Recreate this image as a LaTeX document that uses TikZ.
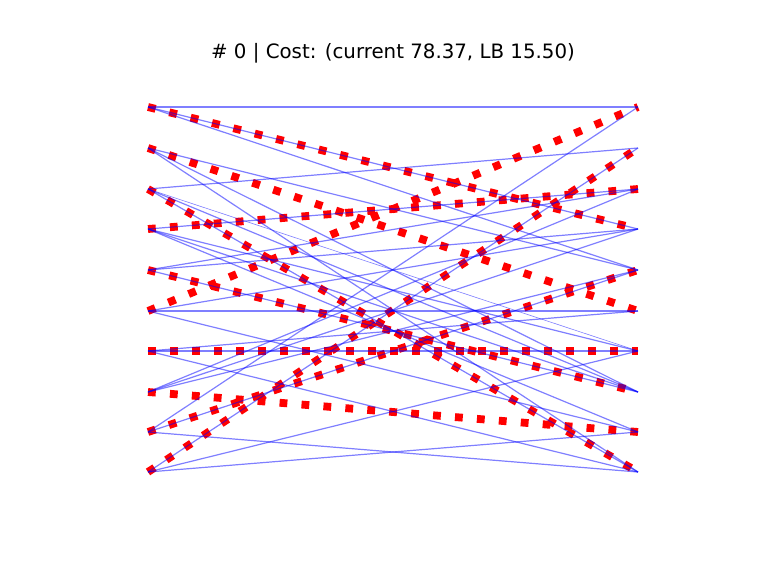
\documentclass[tikz,border=0pt]{standalone}
\usepackage{fontspec}
\setmainfont{DejaVu Sans}
\begin{document}
\begin{tikzpicture}[x=1pt,y=-1pt,
  edge/.style={draw=blue, opacity=0.5, line width=1.2pt},
  heavy/.style={edge, line width=2pt},
  light/.style={edge, line width=0.6pt},
  match/.style={draw=red, line width=7.8pt, dash pattern=on 7.8pt off 14.2pt}]
\useasboundingbox (0,0) rectangle (768,576);
\foreach \i/\y in {0/107,1/148,2/189,3/229,4/270,5/311,6/351,7/392,8/432,9/472}{
  \coordinate (L\i) at (148,\y);
  \coordinate (R\i) at (638,\y);
}
\node (title) at (393,53) {\fontsize{19.8}{24}\selectfont \# 0 | Cost: (current 78.37, LB 15.50)};
% matching
\foreach \a/\b in {0/3,1/5,2/9,3/2,4/7,5/0,6/6,7/8,8/4,9/1}{
  \draw[match] (L\a) -- (R\b);
}
% edges
\draw[heavy] (L0) -- (R0);
\draw[heavy] (L6) -- (R6);
\draw[light] (L2) -- (R6);
\foreach \a/\b in {0/3,0/4,1/4,1/7,1/9,2/1,2/7,2/9,3/2,3/6,3/7,3/8,4/2,4/3,4/7,5/3,5/5,5/8,6/5,6/9,7/2,7/3,7/4,8/0,8/4,8/9,9/1,9/6,9/8}{
  \draw[edge] (L\a) -- (R\b);
}
\end{tikzpicture}
\end{document}
